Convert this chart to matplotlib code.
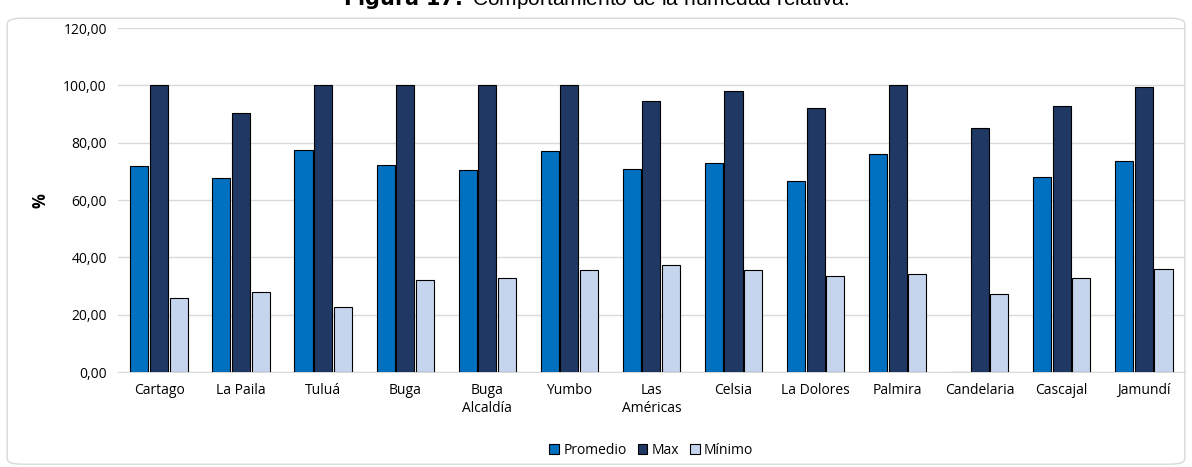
import matplotlib.pyplot as plt
import numpy as np
from matplotlib.patches import FancyBboxPatch

stations = ["Cartago", "La Paila", "Tuluá", "Buga", "Buga\nAlcaldía", "Yumbo", "Las\nAméricas",
            "Celsia", "La Dolores", "Palmira", "Candelaria", "Cascajal", "Jamundí"]
promedio = [72.0, 67.7, 77.5, 72.3, 70.5, 77.0, 70.8, 73.0, 66.5, 76.0, 0.0, 68.0, 73.8]
maximo = [100.0, 90.3, 100.0, 100.0, 100.0, 100.0, 94.5, 98.0, 92.2, 100.0, 85.0, 92.7, 99.3]
minimo = [26.0, 28.0, 22.7, 32.0, 32.7, 35.5, 37.3, 35.7, 33.5, 34.3, 27.3, 33.0, 36.0]
ticks = [0, 20, 40, 60, 80, 100, 120]

plt.rcParams["font.family"] = ["Open Sans", "DejaVu Sans"]
fig = plt.figure(figsize=(11.92, 4.67), dpi=100)
frame = FancyBboxPatch((0.006, 0.006), 0.988, 0.955, boxstyle="round,pad=0,rounding_size=0.012",
                       transform=fig.transFigure, fc="white", ec="#D9D9D9", lw=1, zorder=-1)
fig.patches.append(frame)
fig.text(0.5, 0.99, r"$\bf{Figura\ 17.}$ Comportamiento de la humedad relativa.", ha="center",
         va="baseline", fontsize=15, family="Liberation Sans")

ax = fig.add_axes([0.099, 0.203, 0.895, 0.737])
ax.patch.set_alpha(0)
x = np.arange(len(stations))
w = 0.22
series = [(promedio, "Promedio", "#0070C0"), (maximo, "Max", "#1F3864"), (minimo, "Mínimo", "#C5D5EE")]
for i, (vals, lab, col) in enumerate(series):
    ax.bar(x + (i - 1) * (w + 0.02), vals, w, color=col, edgecolor="black", lw=0.8, label=lab, zorder=3)

ax.set_ylim(0, 120)
ax.set_yticks(ticks)
ax.set_yticklabels([f"{t:.2f}".replace(".", ",") for t in ticks], fontsize=10)
ax.set_xlim(-0.5, len(stations) - 0.5)
ax.set_xticks(x)
ax.set_xticklabels(stations, fontsize=10)
ax.tick_params(length=0, pad=8)
ax.grid(axis="y", color="#D9D9D9", lw=1, zorder=0)
for s in ["top", "right", "left"]:
    ax.spines[s].set_visible(False)
ax.spines["bottom"].set_color("#D9D9D9")
ax.set_ylabel("%", fontsize=12, fontweight="bold", labelpad=10)
ax.legend(loc="upper center", bbox_to_anchor=(0.5, -0.17), ncol=3, frameon=False, fontsize=10,
          handlelength=0.7, handleheight=0.7, columnspacing=0.8, handletextpad=0.3)
fig.savefig("out.png")
